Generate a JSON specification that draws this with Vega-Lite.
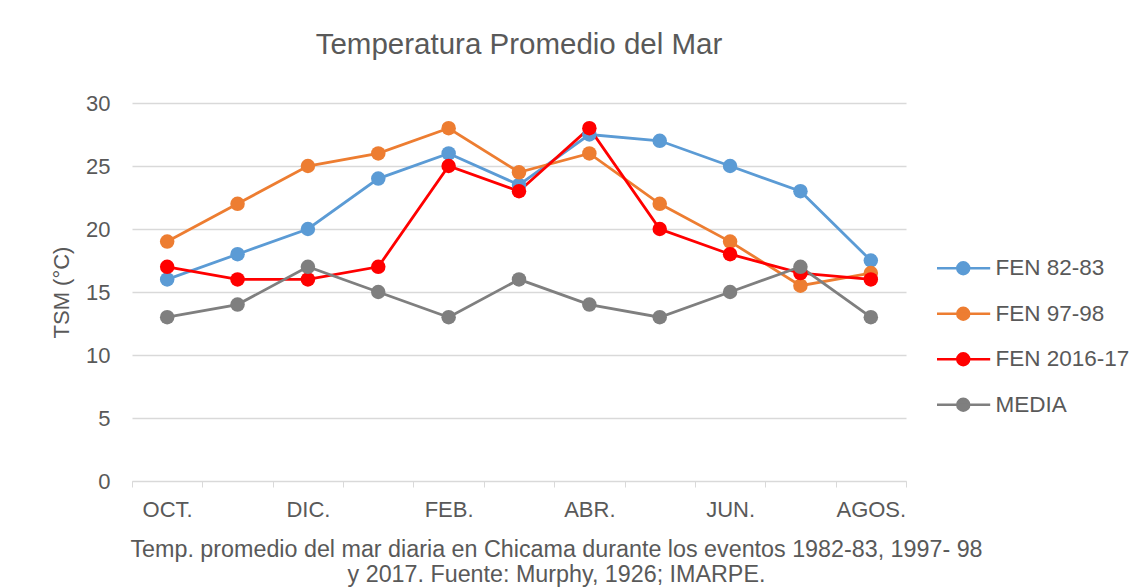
{
  "$schema": "https://vega.github.io/schema/vega-lite/v6.json",
  "width": 774,
  "height": 378,
  "autosize": "none",
  "padding": {"left": 132, "top": 103, "right": 233, "bottom": 107},
  "background": "white",
  "title": {
    "text": "Temperatura Promedio del Mar",
    "font": "Liberation Sans",
    "fontSize": 29.5,
    "fontWeight": "normal",
    "color": "#595959",
    "frame": "group",
    "anchor": "middle",
    "offset": 32
  },
  "data": {
    "values": [
      {"mes": "OCT.", "serie": "FEN 82-83", "t": 16},
      {"mes": "NOV.", "serie": "FEN 82-83", "t": 18},
      {"mes": "DIC.", "serie": "FEN 82-83", "t": 20},
      {"mes": "ENE.", "serie": "FEN 82-83", "t": 24},
      {"mes": "FEB.", "serie": "FEN 82-83", "t": 26},
      {"mes": "MAR.", "serie": "FEN 82-83", "t": 23.5},
      {"mes": "ABR.", "serie": "FEN 82-83", "t": 27.5},
      {"mes": "MAY.", "serie": "FEN 82-83", "t": 27},
      {"mes": "JUN.", "serie": "FEN 82-83", "t": 25},
      {"mes": "JUL.", "serie": "FEN 82-83", "t": 23},
      {"mes": "AGOS.", "serie": "FEN 82-83", "t": 17.5},
      {"mes": "OCT.", "serie": "FEN 97-98", "t": 19},
      {"mes": "NOV.", "serie": "FEN 97-98", "t": 22},
      {"mes": "DIC.", "serie": "FEN 97-98", "t": 25},
      {"mes": "ENE.", "serie": "FEN 97-98", "t": 26},
      {"mes": "FEB.", "serie": "FEN 97-98", "t": 28},
      {"mes": "MAR.", "serie": "FEN 97-98", "t": 24.5},
      {"mes": "ABR.", "serie": "FEN 97-98", "t": 26},
      {"mes": "MAY.", "serie": "FEN 97-98", "t": 22},
      {"mes": "JUN.", "serie": "FEN 97-98", "t": 19},
      {"mes": "JUL.", "serie": "FEN 97-98", "t": 15.5},
      {"mes": "AGOS.", "serie": "FEN 97-98", "t": 16.5},
      {"mes": "OCT.", "serie": "FEN 2016-17", "t": 17},
      {"mes": "NOV.", "serie": "FEN 2016-17", "t": 16},
      {"mes": "DIC.", "serie": "FEN 2016-17", "t": 16},
      {"mes": "ENE.", "serie": "FEN 2016-17", "t": 17},
      {"mes": "FEB.", "serie": "FEN 2016-17", "t": 25},
      {"mes": "MAR.", "serie": "FEN 2016-17", "t": 23},
      {"mes": "ABR.", "serie": "FEN 2016-17", "t": 28},
      {"mes": "MAY.", "serie": "FEN 2016-17", "t": 20},
      {"mes": "JUN.", "serie": "FEN 2016-17", "t": 18},
      {"mes": "JUL.", "serie": "FEN 2016-17", "t": 16.5},
      {"mes": "AGOS.", "serie": "FEN 2016-17", "t": 16},
      {"mes": "OCT.", "serie": "MEDIA", "t": 13},
      {"mes": "NOV.", "serie": "MEDIA", "t": 14},
      {"mes": "DIC.", "serie": "MEDIA", "t": 17},
      {"mes": "ENE.", "serie": "MEDIA", "t": 15},
      {"mes": "FEB.", "serie": "MEDIA", "t": 13},
      {"mes": "MAR.", "serie": "MEDIA", "t": 16},
      {"mes": "ABR.", "serie": "MEDIA", "t": 14},
      {"mes": "MAY.", "serie": "MEDIA", "t": 13},
      {"mes": "JUN.", "serie": "MEDIA", "t": 15},
      {"mes": "JUL.", "serie": "MEDIA", "t": 17},
      {"mes": "AGOS.", "serie": "MEDIA", "t": 13}
    ]
  },
  "encoding": {
    "x": {
      "field": "mes",
      "type": "ordinal",
      "sort": ["OCT.", "NOV.", "DIC.", "ENE.", "FEB.", "MAR.", "ABR.", "MAY.", "JUN.", "JUL.", "AGOS."],
      "scale": {"type": "band", "paddingInner": 0, "paddingOuter": 0},
      "bandPosition": 0.5,
      "axis": {
        "title": ["Temp. promedio del mar diaria en Chicama durante los eventos 1982-83, 1997- 98", "y 2017. Fuente: Murphy, 1926; IMARPE."],
        "titleFont": "Liberation Sans",
        "titleFontSize": 23.3,
        "titleFontWeight": "normal",
        "titleColor": "#595959",
        "titleLineHeight": 25,
        "titlePadding": 18,
        "titleX": 424,
        "titleAlign": "center",
        "labelExpr": "indexof(['OCT.','DIC.','FEB.','ABR.','JUN.','AGOS.'], datum.label) >= 0 ? datum.label : ''",
        "labelFont": "Liberation Sans",
        "labelFontSize": 22,
        "labelColor": "#595959",
        "labelAngle": 0,
        "labelPadding": 12,
        "tickBand": "extent",
        "ticks": true,
        "tickSize": 6,
        "tickColor": "#d9d9d9",
        "domainColor": "#d9d9d9",
        "grid": false
      }
    },
    "y": {
      "field": "t",
      "type": "quantitative",
      "scale": {"domain": [0, 30], "nice": false, "zero": true},
      "axis": {
        "title": "TSM (°C)",
        "titleFont": "Liberation Sans",
        "titleFontSize": 22,
        "titleFontWeight": "normal",
        "titleColor": "#595959",
        "titlePadding": 12,
        "values": [0, 5, 10, 15, 20, 25, 30],
        "labelFont": "Liberation Sans",
        "labelFontSize": 22,
        "labelColor": "#595959",
        "labelPadding": 22,
        "ticks": false,
        "domain": false,
        "grid": true,
        "gridColor": "#d9d9d9",
        "gridWidth": 1.3
      }
    },
    "color": {
      "field": "serie",
      "type": "nominal",
      "sort": ["FEN 82-83", "FEN 97-98", "FEN 2016-17", "MEDIA"],
      "scale": {
        "domain": ["FEN 82-83", "FEN 97-98", "FEN 2016-17", "MEDIA"],
        "range": ["#5B9BD5", "#ED7D31", "#FF0000", "#7F7F7F"]
      },
      "legend": {
        "title": null,
        "orient": "none",
        "legendX": 820,
        "legendY": 154,
        "padding": 0,
        "symbolType": "M-3.75,0L3.85,0M0.85,0A0.85,0.85,0,1,1,-0.85,0A0.85,0.85,0,1,1,0.85,0Z",
        "symbolSize": 196,
        "symbolStrokeWidth": 2.5,
        "labelFont": "Liberation Sans",
        "labelFontSize": 22.5,
        "labelColor": "#595959",
        "labelOffset": 21,
        "rowPadding": 22.5,
        "encode": {
          "symbols": {
            "update": {
              "stroke": {"scale": "color", "field": "value"},
              "fill": {"scale": "color", "field": "value"},
              "fillOpacity": {"value": 1},
              "opacity": {"value": 1}
            }
          }
        }
      }
    }
  },
  "layer": [
    {"mark": {"type": "line", "strokeWidth": 2.8}},
    {"mark": {"type": "point", "filled": true, "size": 210, "opacity": 1}}
  ],
  "config": {
    "view": {"stroke": null}
  }
}
